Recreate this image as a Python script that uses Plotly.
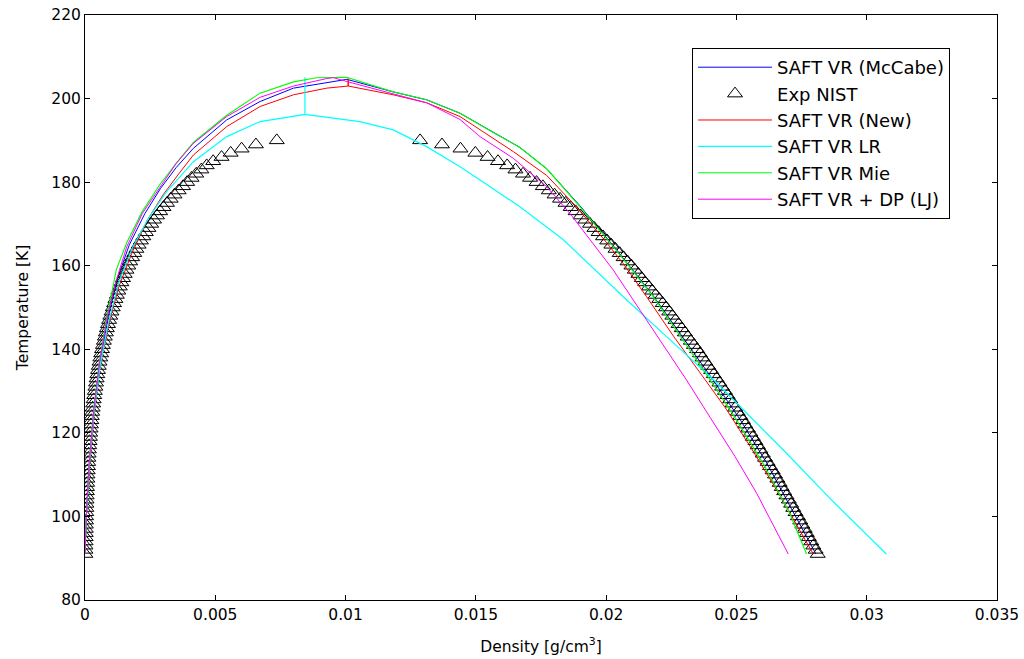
import plotly.graph_objects as go

# ---------------- data (density values in units of 1e-3) ----------------
exp_T = [91, 92, 93, 94, 95, 96, 97, 98, 99, 100,
         101, 102, 103, 104, 105, 106, 107, 108, 109, 110,
         111, 112, 113, 114, 115, 116, 117, 118, 119, 120,
         121, 122, 123, 124, 125, 126, 127, 128, 129, 130,
         131, 132, 133, 134, 135, 136, 137, 138, 139, 140,
         141, 142, 143, 144, 145, 146, 147, 148, 149, 150,
         151, 152, 153, 154, 155, 156, 157, 158, 159, 160,
         161, 162, 163, 164, 165, 166, 167, 168, 169, 170,
         171, 172, 173, 174, 175, 176, 177, 178, 179, 180,
         181, 182, 183, 184, 185, 186, 187, 188, 189, 190]
exp_vapor = [0.016, 0.018, 0.020, 0.023, 0.026, 0.029, 0.032, 0.035, 0.039, 0.042,
             0.046, 0.050, 0.055, 0.060, 0.065, 0.071, 0.077, 0.083, 0.090, 0.096,
             0.104, 0.113, 0.122, 0.131, 0.141, 0.151, 0.162, 0.174, 0.187, 0.200,
             0.214, 0.228, 0.244, 0.260, 0.277, 0.295, 0.314, 0.333, 0.354, 0.376,
             0.399, 0.422, 0.447, 0.473, 0.500, 0.528, 0.558, 0.588, 0.620, 0.653,
             0.688, 0.724, 0.761, 0.800, 0.840, 0.882, 0.925, 0.970, 1.017, 1.066,
             1.116, 1.168, 1.222, 1.278, 1.336, 1.397, 1.459, 1.524, 1.592, 1.662,
             1.735, 1.811, 1.890, 1.972, 2.057, 2.146, 2.238, 2.334, 2.435, 2.540,
             2.650, 2.765, 2.886, 3.013, 3.147, 3.288, 3.437, 3.595, 3.763, 3.920,
             4.090, 4.270, 4.465, 4.670, 4.920, 5.240, 5.590, 6.010, 6.560, 7.360]
exp_liquid = [28.12, 28.04, 27.95, 27.87, 27.78, 27.70, 27.62, 27.53, 27.45, 27.36,
              27.27, 27.18, 27.10, 27.01, 26.92, 26.83, 26.74, 26.66, 26.57, 26.48,
              26.39, 26.29, 26.20, 26.10, 26.01, 25.92, 25.82, 25.73, 25.63, 25.54,
              25.44, 25.34, 25.25, 25.15, 25.05, 24.95, 24.85, 24.76, 24.66, 24.56,
              24.45, 24.35, 24.24, 24.13, 24.03, 23.92, 23.81, 23.70, 23.60, 23.49,
              23.37, 23.25, 23.13, 23.02, 22.90, 22.78, 22.66, 22.54, 22.42, 22.30,
              22.17, 22.04, 21.90, 21.77, 21.64, 21.50, 21.37, 21.24, 21.10, 20.97,
              20.82, 20.67, 20.52, 20.36, 20.20, 20.04, 19.88, 19.71, 19.55, 19.38,
              19.20, 19.02, 18.83, 18.64, 18.44, 18.23, 18.02, 17.80, 17.57, 17.33,
              17.08, 16.81, 16.52, 16.20, 15.85, 15.45, 14.98, 14.41, 13.70, 12.86]

mccabe_x = [0, 0.05, 0.16, 0.34, 0.58, 0.90, 1.25, 1.70, 2.30, 2.90, 3.50, 4.16, 5.44, 6.72, 8.00, 9.28, 10.05,
            11.83, 13.11, 14.39, 15.67, 16.69, 17.72, 19.00, 20.27, 21.81, 24.10, 25.15, 26.17, 27.22, 28.05]
mccabe_T = [91, 100, 112, 125, 137, 148, 157, 165, 172.5, 178.5, 183.5, 188.1, 194.9, 199.3, 202.5, 203.7, 204.6,
            201.6, 199.7, 196.5, 191.9, 188.3, 183.2, 174.3, 164.8, 152.8, 132.7, 123.1, 112.7, 100.7, 91]

new_x = [0, 0.05, 0.17, 0.36, 0.60, 0.95, 1.30, 1.80, 2.40, 3.00, 3.60, 4.16, 5.44, 6.72, 8.00, 9.28, 10.10, 10.10, 10.10,
         11.83, 13.11, 14.39, 15.16, 16.44, 17.72, 18.80, 19.89, 20.66, 21.55, 22.60, 23.80, 24.63, 25.53, 26.55, 27.95]
new_T = [91, 100, 112, 125, 137, 147, 155, 163, 171, 177, 182, 186.5, 193.3, 198.1, 200.9, 202.5, 203.0, 204.8, 203.0,
         200.9, 199.0, 195.7, 192.6, 187.3, 181.6, 174.5, 166.5, 160.5, 152.6, 143.0, 132.7, 125.5, 116.7, 106.3, 91]

lr_x = [0, 0.05, 0.16, 0.35, 0.60, 0.92, 1.30, 1.80, 2.40, 3.10, 4.16, 5.44, 6.72, 8.00, 8.44, 8.44, 8.44,
        10.55, 11.83, 13.11, 14.39, 15.16, 16.69, 18.36, 20.79, 22.50, 24.12, 25.14, 26.80, 28.72, 30.75]
lr_T = [91, 100, 112, 125, 137, 147, 156, 164, 171, 177.5, 184.9, 190.9, 194.5, 195.7, 196.2, 205.1, 196.2,
        194.5, 192.5, 188.5, 183.7, 180.5, 174.1, 166.2, 151.8, 142.0, 132.7, 126.3, 115.9, 103.5, 91]

mie_x = [0, 0.05, 0.15, 0.32, 0.55, 0.85, 1.20, 1.60, 2.20, 2.88, 3.50, 4.16, 5.44, 6.72, 8.00, 8.89, 10.04,
         11.83, 13.11, 14.39, 15.67, 16.69, 17.72, 19.00, 20.27, 21.81, 23.99, 25.00, 26.02, 27.05, 27.69]
mie_T = [91, 100, 112, 125, 137, 148, 159, 165.5, 173, 179.5, 184.5, 189.5, 196.0, 201.3, 204.0, 205.0, 205.1,
         201.6, 199.7, 196.5, 191.9, 188.3, 183.2, 174.1, 164.6, 152.6, 132.7, 123.1, 112.7, 100.7, 91]

dp_x = [0, 0.05, 0.15, 0.33, 0.56, 0.87, 1.20, 1.60, 2.20, 2.90, 3.50, 4.16, 5.44, 6.72, 8.00, 9.28, 9.53, 10.10,
        11.83, 13.11, 14.39, 15.16, 16.44, 17.72, 18.61, 19.38, 20.27, 21.04, 22.10, 23.08, 24.00, 24.95, 25.78, 26.99]
dp_T = [91, 100, 112, 125, 137, 148, 156.5, 164.5, 172.5, 179, 184.5, 189.3, 195.7, 200.3, 203.0, 204.8, 205.0, 204.0,
        201.2, 199.0, 195.0, 190.9, 185.7, 178.9, 172.5, 166.2, 159.0, 151.8, 142.0, 132.7, 123.6, 114.3, 105.5, 91]

x_ticks = [0, 0.005, 0.01, 0.015, 0.02, 0.025, 0.03, 0.035]
x_ticklabels = ["0", "0.005", "0.01", "0.015", "0.02", "0.025", "0.03", "0.035"]
y_ticks = [80, 100, 120, 140, 160, 180, 200, 220]


def scale(v):
    return [a / 1000.0 for a in v]


exp_x = scale(exp_vapor) + scale(exp_liquid[::-1])
exp_y = exp_T + exp_T[::-1]

FONT = "DejaVu Sans, Liberation Sans, Arial, sans-serif"

fig = go.Figure()
fig.add_trace(go.Scatter(x=scale(mccabe_x), y=mccabe_T, mode="lines", name="SAFT VR (McCabe)",
                         line=dict(color="#0000ff", width=1)))
fig.add_trace(go.Scatter(x=exp_x, y=exp_y, mode="markers", name="Exp NIST",
                         marker=dict(symbol="triangle-up-open", size=13, color="black",
                                     line=dict(color="black", width=1))))
fig.add_trace(go.Scatter(x=scale(new_x), y=new_T, mode="lines", name="SAFT VR (New)",
                         line=dict(color="#ff0000", width=1)))
fig.add_trace(go.Scatter(x=scale(lr_x), y=lr_T, mode="lines", name="SAFT VR LR",
                         line=dict(color="#00ffff", width=1.2)))
fig.add_trace(go.Scatter(x=scale(mie_x), y=mie_T, mode="lines", name="SAFT VR Mie",
                         line=dict(color="#00ff00", width=1.1)))
fig.add_trace(go.Scatter(x=scale(dp_x), y=dp_T, mode="lines", name="SAFT VR + DP (LJ)",
                         line=dict(color="#ff00ff", width=1)))

fig.update_layout(
    width=1024, height=659,
    margin=dict(l=85, r=27, t=15, b=59),
    paper_bgcolor="white", plot_bgcolor="white",
    font=dict(family=FONT, size=15, color="black"),
    showlegend=True,
    legend=dict(x=0.6656, y=0.9436, xanchor="left", yanchor="top",
                bordercolor="black", borderwidth=1, bgcolor="white",
                font=dict(family=FONT, size=18, color="black"),
                itemwidth=74, tracegroupgap=0),
)
fig.update_xaxes(range=[0, 0.035], tickvals=x_ticks, ticktext=x_ticklabels, automargin=False,
                 ticks="inside", ticklen=5, tickcolor="black", showline=True, linecolor="black",
                 linewidth=1, mirror="ticks", showgrid=False, zeroline=False,
                 tickfont=dict(family=FONT, size=15.5),
                 title=dict(text="Density [g/cm<sup>3</sup>]", font=dict(family=FONT, size=15.5), standoff=18))
fig.update_yaxes(range=[80, 220], tickvals=y_ticks, automargin=False,
                 ticks="inside", ticklen=5, tickcolor="black", showline=True, linecolor="black",
                 linewidth=1, mirror="ticks", showgrid=False, zeroline=False,
                 tickfont=dict(family=FONT, size=15.5),
                 title=dict(text="Temperature [K]", font=dict(family=FONT, size=15.5), standoff=18))

fig.write_html("out.html")
